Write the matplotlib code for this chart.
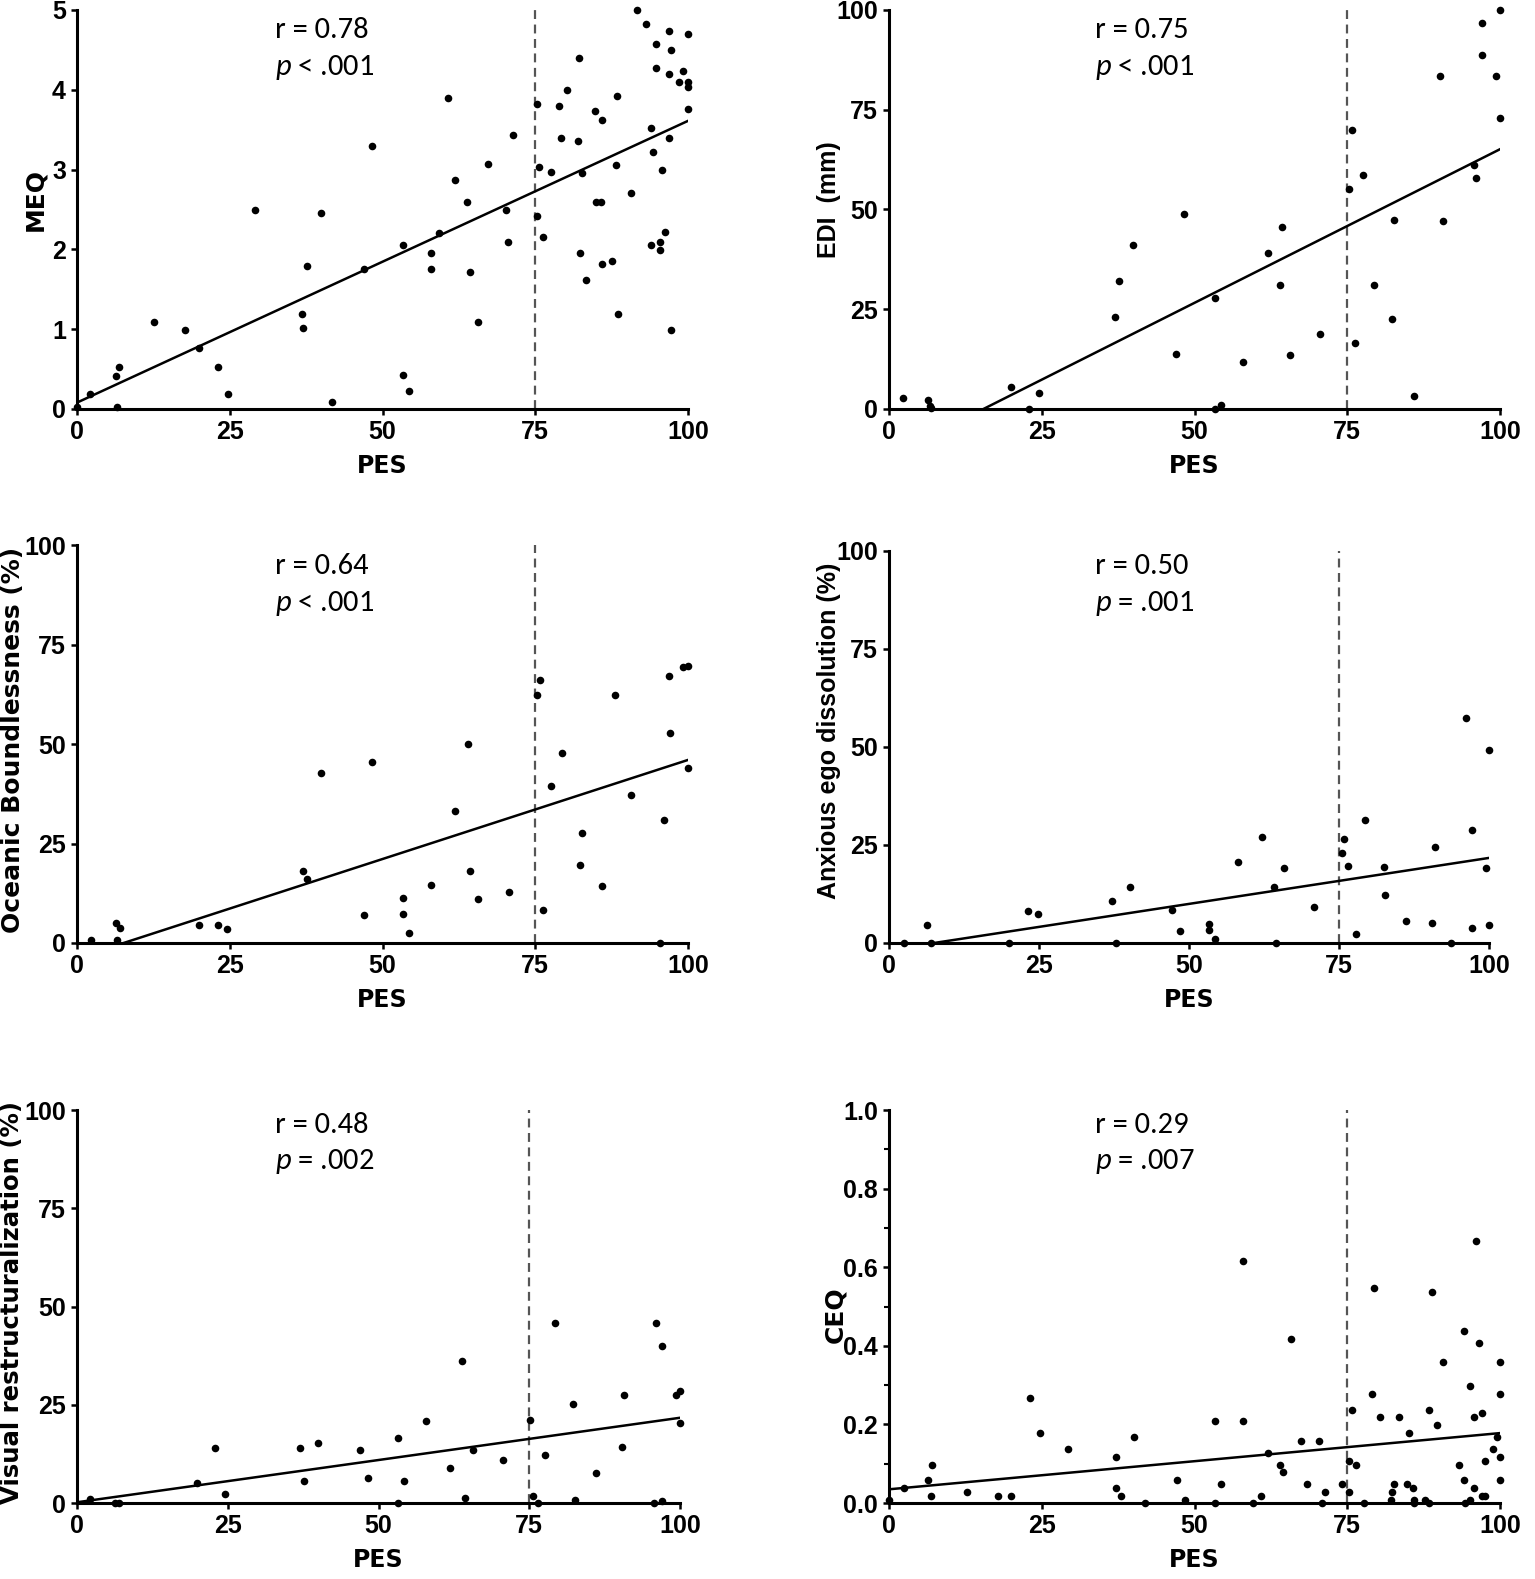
import matplotlib
matplotlib.use('Agg')
import matplotlib.pyplot as plt
from matplotlib import font_manager
from matplotlib.ticker import MultipleLocator, FormatStrFormatter
import numpy as np

installed = {f.name for f in font_manager.fontManager.ttflist}
stat_font = 'Carlito' if 'Carlito' in installed else 'Lato'

plt.rcParams['font.family'] = ['Liberation Sans', 'DejaVu Sans']
plt.rcParams['mathtext.fontset'] = 'custom'
plt.rcParams['mathtext.it'] = stat_font + ':italic'
plt.rcParams['mathtext.rm'] = stat_font

# ---- data ----
pes_meq = [0, 2.2, 6.3, 6.9, 6.6, 12.6, 17.6, 20, 23, 24.7, 29.1, 36.9, 37, 37.7, 39.9, 41.7,
           46.9, 48.3, 53.3, 53.3, 54.3, 58, 58, 59.2, 60.7, 61.9, 63.9, 64.3, 65.6, 67.3,
           70.2, 70.6, 71.3, 75.3, 75.3, 75.6, 76.3, 77.6, 78.9, 79.2, 80.2, 82.2, 82, 82.6,
           82.3, 83.3, 84.7, 84.9, 85.7, 86, 86, 87.6, 88.3, 88.6, 88.2, 90.6, 91.7, 93.2,
           93.9, 94.3, 93.9, 94.7, 94.7, 95.5, 95.5, 95.8, 96.2, 96.9, 97.2, 96.9, 96.9,
           97.2, 98.6, 99.2, 100, 100, 100, 100]
meq = [0.02, 0.19, 0.41, 0.52, 0.02, 1.09, 0.99, 0.76, 0.52, 0.19, 2.49, 1.19, 1.02, 1.79,
       2.46, 0.09, 1.76, 3.29, 2.06, 0.42, 0.22, 1.96, 1.76, 2.20, 3.90, 2.87, 2.59, 1.72,
       1.09, 3.07, 2.49, 2.09, 3.43, 3.82, 2.42, 3.03, 2.16, 2.97, 3.80, 3.39, 4.0, 4.40,
       3.36, 2.96, 1.96, 1.62, 3.73, 2.59, 2.59, 3.62, 1.82, 1.86, 3.92, 1.19, 3.06, 2.70,
       5.0, 4.83, 3.52, 3.22, 2.06, 4.57, 4.27, 2.09, 1.99, 3.0, 2.22, 4.73, 4.50, 4.20,
       3.39, 0.99, 4.10, 4.23, 4.70, 4.10, 4.03, 3.76]

pes_edi = [2.3, 6.3, 6.7, 6.9, 19.9, 22.9, 24.6, 36.9, 37.6, 39.9, 47, 48.2, 53.3, 53.3,
           54.3, 58, 62, 64, 64.3, 65.6, 70.6, 75.3, 75.7, 76.3, 77.6, 79.3, 82.4, 82.7,
           86, 90.2, 90.7, 95.7, 96, 97, 97, 99.3, 100, 100]
edi = [2.8, 2.2, 0.7, 0.3, 5.5, 0, 4.1, 23.1, 32.1, 41.1, 13.7, 48.8, 27.9, 0, 0.9, 11.8,
       39.2, 31.1, 45.5, 13.6, 18.8, 55.2, 70, 16.5, 58.6, 31.1, 22.5, 47.3, 3.2, 83.5,
       47.1, 61.1, 57.8, 96.8, 88.6, 83.5, 99.9, 72.9]

pes_ob = [2.3, 6.3, 7, 6.6, 19.9, 23, 24.6, 37, 37.6, 40, 46.9, 48.3, 53.3, 53.3, 54.3, 58,
          61.9, 64, 64.3, 65.7, 70.7, 75.3, 75.7, 76.3, 77.6, 79.3, 82.3, 82.6, 86, 88.1,
          90.7, 95.5, 96, 96.9, 97, 99.2, 100, 100]
ob = [0.7, 4.9, 3.8, 0.8, 4.6, 4.6, 3.5, 18.2, 16, 42.7, 7, 45.6, 11.3, 7.4, 2.6, 14.6,
      33.2, 50.1, 18.1, 11.1, 12.9, 62.4, 66.1, 8.2, 39.4, 47.8, 19.7, 27.7, 14.4, 62.3,
      37.3, 0, 30.9, 67.2, 52.7, 69.4, 69.7, 43.9]

pes_aed = [2.5, 6.4, 7, 20, 23.1, 24.8, 37.1, 37.8, 40.2, 47.1, 48.5, 53.4, 53.4, 54.4,
           58.1, 62.1, 64.2, 64.5, 65.8, 70.8, 75.5, 75.9, 76.5, 77.9, 79.4, 82.5, 82.7,
           86.1, 90.4, 90.9, 93.7, 96.1, 97.1, 97.1, 99.4, 100, 100]
aed = [0, 4.6, 0, 0, 8.1, 7.5, 10.7, 0, 14.2, 8.4, 3, 4.8, 3.2, 1, 20.6, 27, 14.2, 0, 19.2,
       9.2, 23, 26.5, 19.6, 2.4, 31.3, 19.3, 12.2, 5.5, 5.2, 24.4, 0, 57.4, 28.9, 3.9,
       19.2, 49.2, 4.7]

pes_vr = [2.2, 6.3, 6.9, 19.9, 22.9, 24.5, 36.9, 37.6, 39.9, 46.9, 48.2, 53.2, 53.3, 54.3,
          57.9, 61.9, 63.9, 64.3, 65.6, 70.6, 75.2, 75.6, 76.4, 77.6, 79.3, 82.2, 82.6, 86,
          90.3, 90.7, 95.7, 96.1, 97, 97, 99.3, 100, 100]
vr = [1, 0, 0, 5.2, 14.1, 2.3, 13.9, 5.7, 15.4, 13.4, 6.5, 16.6, 0, 5.5, 21, 8.9, 36.1,
      1.4, 13.4, 10.9, 21.2, 1.9, 0, 12.2, 45.7, 25.3, 0.9, 7.6, 14.2, 27.6, 0, 45.7, 40,
      0.6, 27.4, 28.6, 20.4]

pes_ceq = [0, 2.4, 6.4, 7.1, 6.8, 12.8, 17.8, 20, 23.1, 24.7, 29.3, 37.1, 37.1, 37.9, 40.1,
           41.9, 47.1, 48.5, 53.4, 53.4, 54.4, 58, 58, 59.5, 60.8, 62.1, 64, 64.4, 65.8,
           67.5, 68.4, 70.4, 70.8, 71.4, 74.1, 75.3, 75.3, 75.8, 76.4, 77.8, 79.1, 79.4,
           80.4, 82.1, 82.4, 82.7, 83.4, 84.8, 85.1, 85.7, 86, 86, 87.7, 88.4, 88.8, 88.3,
           89.7, 90.7, 93.3, 94.1, 94.1, 94.3, 95.1, 95.1, 95.8, 95.8, 96.1, 96.5, 97.1,
           97.1, 97.6, 97.6, 98.9, 99.5, 100, 100, 100, 100]
ceq = [0.008, 0.038, 0.058, 0.098, 0.018, 0.028, 0.018, 0.018, 0.268, 0.178, 0.138, 0.118,
       0.038, 0.018, 0.168, 0, 0.058, 0.008, 0.208, 0, 0.048, 0.617, 0.208, 0, 0.018,
       0.128, 0.098, 0.078, 0.418, 0.158, 0.048, 0.158, 0, 0.028, 0.048, 0.108, 0.028,
       0.238, 0.098, 0, 0.278, 0.548, 0.218, 0.008, 0.028, 0.048, 0.218, 0.048, 0.178,
       0.038, 0.008, 0, 0.008, 0.238, 0.538, 0, 0.198, 0.358, 0.098, 0.438, 0.058, 0,
       0.298, 0.008, 0.218, 0.038, 0.668, 0.408, 0.228, 0.018, 0.108, 0.018, 0.138,
       0.168, 0.358, 0.278, 0.118, 0.058]

# regression lines (intercept, slope) as printed
fit_meq = (0.08, 0.0353)
fit_edi = (-11.9, 0.770)
fit_ob = (-3.8, 0.498)
fit_aed = (-1.76, 0.2346)
fit_vr = (0.2, 0.215)
fit_ceq = (0.035, 0.00143)

labels_r = ['r = 0.78', 'r = 0.75', 'r = 0.64', 'r = 0.50', 'r = 0.48', 'r = 0.29']
labels_p = ['$p$ < .001', '$p$ < .001', '$p$ < .001', '$p$ = .001', '$p$ = .002', '$p$ = .007']

fig = plt.figure(figsize=(15.35, 15.79), dpi=100)


def panel(rect, x, y, fit, ymax, ystep, ylabel, ylab, r_lab, p_lab, text_pos, fmt='%d', minor=None):
    ax = fig.add_axes(rect)
    ax.axvline(75, color='#555555', lw=1.6, ls=(0, (4, 2.5)), zorder=1)
    xs = np.array([0, 100])
    ax.plot(xs, fit[0] + fit[1] * xs, color='black', lw=1.8, zorder=2)
    ax.scatter(x, y, s=30, color='black', zorder=3, clip_on=False, linewidths=0)
    ax.set_xlim(0, 100)
    ax.set_ylim(0, ymax)
    ax.xaxis.set_major_locator(MultipleLocator(25))
    ax.yaxis.set_major_locator(MultipleLocator(ystep))
    ax.yaxis.set_major_formatter(FormatStrFormatter(fmt))
    if minor:
        ax.yaxis.set_minor_locator(MultipleLocator(minor))
        ax.tick_params(axis='y', which='minor', length=3.5, width=1.5)
    for s in ['top', 'right']:
        ax.spines[s].set_visible(False)
    for s in ['left', 'bottom']:
        ax.spines[s].set_linewidth(2.2)
    ax.tick_params(which='major', length=4, width=1.8, labelsize=18, pad=4)
    for lab in ax.get_xticklabels() + ax.get_yticklabels():
        lab.set_fontweight('bold')
    ax.set_xlabel('PES', fontsize=17, fontweight='bold', family='DejaVu Sans', labelpad=7)
    ax.set_ylabel(ylabel, fontsize=ylab[2], fontweight='bold', family=ylab[3])
    ax.yaxis.set_label_coords(ylab[0], ylab[1])
    ax.text(text_pos[0], text_pos[1], r_lab, transform=ax.transAxes, fontsize=22,
            family=stat_font, va='center', ha='left')
    ax.text(text_pos[0], text_pos[2], p_lab, transform=ax.transAxes, fontsize=22,
            family=stat_font, va='center', ha='left')
    return ax


panel([0.0502, 0.7410, 0.398, 0.2527], pes_meq, meq, fit_meq, 5, 1, 'MEQ',
      (-0.048, 0.524, 18, 'DejaVu Sans'), labels_r[0], labels_p[0], (0.324, 0.950, 0.857))
panel([0.5792, 0.7410, 0.398, 0.2527], pes_edi, edi, fit_edi, 100, 25, 'EDI  (mm)',
      (-0.079, 0.524, 18, 'Liberation Sans'), labels_r[1], labels_p[1], (0.337, 0.950, 0.857))
panel([0.0502, 0.4028, 0.398, 0.2520], pes_ob, ob, fit_ob, 100, 25, 'Oceanic Boundlessness (%)',
      (-0.086, 0.51, 18, 'DejaVu Sans'), labels_r[2], labels_p[2], (0.324, 0.947, 0.854))
panel([0.5792, 0.4028, 0.3909, 0.2483], pes_aed, aed, fit_aed, 100, 25, 'Anxious ego dissolution (%)',
      (-0.080, 0.54, 18, 'Liberation Sans'), labels_r[3], labels_p[3], (0.343, 0.962, 0.865))
panel([0.0502, 0.0481, 0.3928, 0.2489], pes_vr, vr, fit_vr, 100, 25, 'Visual restructuralization (%)',
      (-0.088, 0.51, 17.6, 'DejaVu Sans'), labels_r[4], labels_p[4], (0.328, 0.962, 0.868))
panel([0.5792, 0.0481, 0.398, 0.2489], pes_ceq, ceq, fit_ceq, 1.0, 0.2, 'CEQ',
      (-0.068, 0.48, 18, 'DejaVu Sans'), labels_r[5], labels_p[5], (0.337, 0.962, 0.868),
      fmt='%.1f', minor=0.1)

fig.savefig('out.png', dpi=100)
